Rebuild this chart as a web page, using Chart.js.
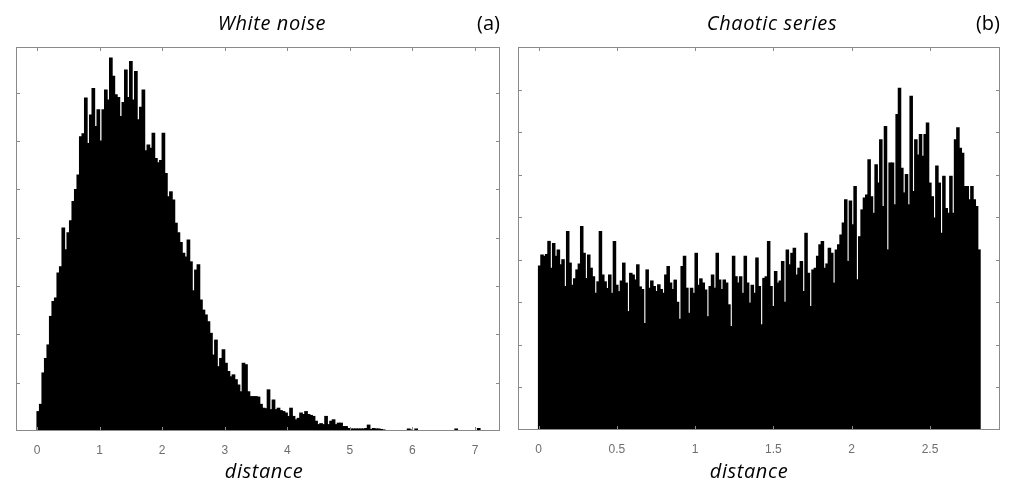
<!DOCTYPE html>
<html><head><meta charset="utf-8">
<script src="https://cdn.jsdelivr.net/npm/chart.js@4.4.1/dist/chart.umd.min.js"></script>
<style>
body{margin:0;background:#fff;}
#wrap{position:relative;width:1011px;height:492px;overflow:hidden;background:#fff;}
canvas{position:absolute;top:0;}
.t{position:absolute;font-family:"Open Sans",sans-serif;font-size:20px;line-height:24px;color:#000;white-space:nowrap;}
.it{font-style:italic;letter-spacing:0.6px;}
</style></head><body>
<div id="wrap">
<canvas id="ca" width="508" height="492" style="left:0"></canvas>
<canvas id="cb" width="503" height="492" style="left:508px"></canvas>
<div class="t it" style="left:172px;width:200px;text-align:center;top:11px">White noise</div>
<div class="t" style="left:400px;width:100px;text-align:right;top:11px">(a)</div>
<div class="t it" style="left:672px;width:200px;text-align:center;top:11px">Chaotic series</div>
<div class="t" style="left:900px;width:100px;text-align:right;top:11px">(b)</div>
<div class="t it" style="left:164px;width:200px;text-align:center;top:459px">distance</div>
<div class="t it" style="left:649px;width:200px;text-align:center;top:459px">distance</div>
</div>
<script>
// ---- data ----
const noiseBinWidth = 0.04;
const noiseCounts = [
0.4,0.55,1.2,1.5,1.78,2.37,2.68,2.75,3.27,3.4,
4.2,3.75,4.1,4.35,4.75,5.0,5.3,6.09,6.15,6.89,
5.95,6.54,7.09,6.3,6.65,6.0,6.65,7.06,6.85,7.72,
7.34,6.96,6.9,6.51,6.8,7.47,6.9,7.65,6.85,7.44,
6.44,6.7,7.06,5.8,5.92,5.85,6.16,5.64,5.55,5.6,
6.16,5.33,4.85,4.95,4.78,4.3,4.1,3.9,3.68,3.6,
3.95,3.5,2.9,3.33,3.44,2.71,2.5,2.4,2.26,2.02,
1.57,1.88,1.33,1.5,1.68,1.4,1.23,1.12,1.16,1.06,
0.95,0.81,1.4,1.37,0.81,0.71,0.71,0.71,0.7,0.55,
0.47,0.46,0.85,0.44,0.64,0.44,0.47,0.42,0.40,0.37,
0.30,0.47,0.30,0.23,0.26,0.37,0.34,0.40,0.34,0.32,
0.30,0.20,0.13,0.15,0.13,0.30,0.13,0.20,0.23,0.13,
0.16,0.16,0.09,0.09,0.05,0.04,0.04,0.04,0.04,0.04,
0.04,0.05,0.12,0.03,0.05,0.04,0.04,0.03,0.02,0,
0,0,0,0,0,0,0,0,0.04,0.02,
0,0.04,0,0,0,0,0,0,0,0,
0,0,0,0,0,0,0,0.04,0,0,
0,0,0,0,0,0,0.05,0
];
const noiseTicks = [0,1,2,3,4,5,6,7];

const chaoticBinWidth = 2.82/189;
const chaoticCounts = [
3.85,4.11,4.08,4.12,4.43,3.80,4.38,4.08,4.23,3.88,
4.0,3.37,4.66,3.92,3.4,3.55,3.76,3.9,4.78,4.15,
3.56,4.11,3.8,3.6,3.21,3.48,4.66,3.64,3.48,3.32,
3.64,3.21,4.43,3.4,3.25,3.5,3.92,3.45,2.78,3.68,
3.64,3.52,3.88,3.36,3.3,2.5,3.76,3.33,3.5,3.37,
3.25,3.41,3.3,3.21,3.64,3.84,3.45,3.3,3.52,3.0,
2.6,3.84,4.08,3.33,2.74,3.33,3.21,4.15,3.4,3.55,
3.45,3.29,2.66,3.37,3.64,3.33,4.15,3.52,3.3,3.52,
3.45,2.94,2.43,4.08,3.6,3.45,3.6,3.21,4.08,3.45,
2.98,3.4,3.21,4.04,3.37,
2.47,3.56,3.6,4.43,3.37,2.9,3.72,3.45,3.5,3.96,
3.0,4.23,3.88,4.15,4.27,3.64,3.8,3.96,3.25,4.62,
3.68,2.9,3.76,3.8,4.08,4.35,4.43,3.8,3.9,4.27,
4.15,3.45,4.23,4.35,4.58,4.86,
5.41,3.96,5.38,4.82,5.72,3.53,4.54,5.17,
5.45,5.52,6.35,5.48,5.09,6.23,5.8,6.82,5.25,7.13,
4.23,6.27,6.27,5.29,7.41,8.03,6.15,5.57,6.0,
5.29,7.84,5.6,6.82,6.46,6.94,6.43,6.94,
7.21,5.8,5.48,4.98,6.2,5.8,4.62,5.96,5.2,
5.09,5.96,5.09,6.82,7.1,6.62,6.5,5.72,5.72,
5.41,5.72,5.41,5.25,4.23
];
const chaoticTicks = [0,0.5,1,1.5,2,2.5];

// ---- frame with inward ticks ----
const frame = {
  id:'frame',
  afterDraw(chart){
    const {ctx, chartArea:a, scales:{x,y}} = chart;
    const L=Math.round(a.left), R=Math.round(a.right), T=Math.round(a.top), B=Math.round(a.bottom);
    ctx.save();
    ctx.strokeStyle='#8a8a8a'; ctx.lineWidth=1;
    ctx.strokeRect(L+0.5,T+0.5,R-L-1,B-T-1);
    ctx.beginPath();
    x.ticks.forEach(t=>{
      const px=Math.round(x.getPixelForValue(t.value))+0.5;
      ctx.moveTo(px,B); ctx.lineTo(px,B-4);
      ctx.moveTo(px,T); ctx.lineTo(px,T+4);
    });
    for(let v=1; v<y.max-0.05; v++){
      const py=Math.round(y.getPixelForValue(v))+0.5;
      ctx.moveTo(L,py); ctx.lineTo(L+4,py);
      ctx.moveTo(R,py); ctx.lineTo(R-4,py);
    }
    ctx.stroke();
    ctx.restore();
  }
};

function makeChart(id, counts, binWidth, ticksX, xmin, xmax, ymax, pad, axisH){
  const data = counts.map((v,i)=>({x:(i+0.5)*binWidth, y:v}));
  return new Chart(document.getElementById(id), {
    type:'bar',
    data:{datasets:[{data, backgroundColor:'#000', borderWidth:0, barPercentage:1, categoryPercentage:1, inflateAmount:0.6}]},
    options:{
      responsive:false, animation:false, devicePixelRatio:1,
      layout:{padding:pad},
      plugins:{legend:{display:false}, tooltip:{enabled:false}},
      scales:{
        x:{type:'linear', min:xmin, max:xmax, offset:false,
          grid:{display:false, drawTicks:false}, border:{display:false},
          afterBuildTicks:s=>{s.ticks=ticksX.map(v=>({value:v}));},
          afterFit:s=>{s.height=axisH;},
          ticks:{autoSkip:false, maxRotation:0, padding:12, color:'#6e6e6e',
            font:{family:'"Liberation Sans", Arial, sans-serif', size:12},
            callback:v=>String(v)}},
        y:{display:false, min:0, max:ymax}
      }
    },
    plugins:[frame]
  });
}

makeChart('ca', noiseCounts, noiseBinWidth, noiseTicks, -0.336, 7.40, 7.95,
  {left:16, right:8, top:47, bottom:0}, 61);
makeChart('cb', chaoticCounts, chaoticBinWidth, chaoticTicks, -0.131, 2.947, 9.0,
  {left:10, right:11, top:47, bottom:0}, 62);
</script>
</body></html>
